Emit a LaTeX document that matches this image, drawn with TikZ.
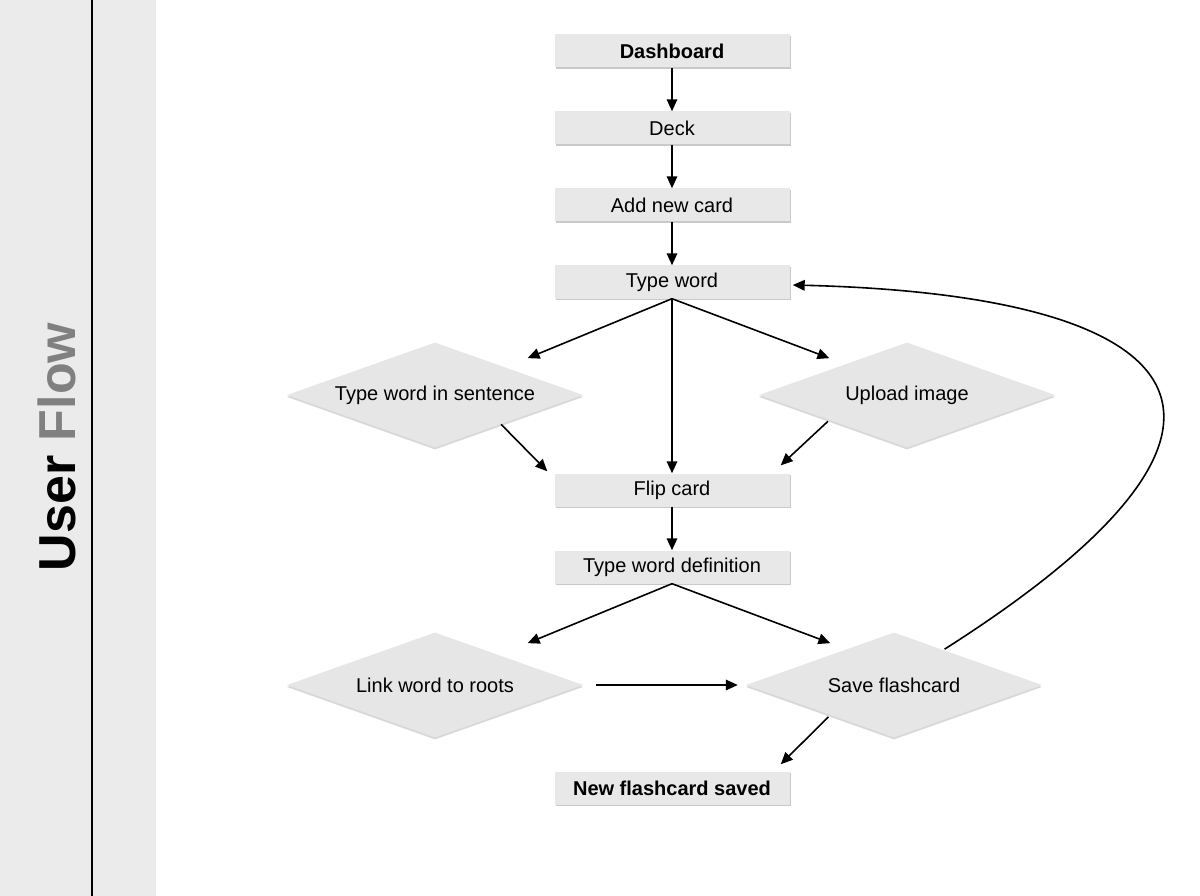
\documentclass[tikz,border=0pt]{standalone}
\usepackage{fontspec}
\setmainfont{Liberation Sans}
\usetikzlibrary{shapes.geometric,arrows.meta,shadows}
\definecolor{strip}{HTML}{EBEBEB}
\definecolor{boxfill}{HTML}{E8E8E8}
\definecolor{diafill}{HTML}{E6E6E6}
\definecolor{flowgray}{HTML}{808080}
\tikzset{
  stepbox/.style={rectangle, fill=boxfill, minimum width=235pt, minimum height=33pt, inner sep=0pt,
    font=\fontsize{20}{24}\selectfont,
    drop shadow={shadow xshift=1pt, shadow yshift=-1.5pt, opacity=0.35, fill=black!60}},
  decision/.style={diamond, aspect=2.8, fill=diafill, minimum width=296pt, minimum height=105pt, inner sep=0pt,
    font=\fontsize{20}{24}\selectfont,
    drop shadow={shadow xshift=0pt, shadow yshift=-2pt, opacity=0.25, fill=black!60}},
  conn/.style={line width=1.6pt, -{Triangle[length=12pt,width=10.5pt]}},
}
\begin{document}
\begin{tikzpicture}[x=1pt,y=-1pt]
\useasboundingbox (0,0) rectangle (1200,896);
\fill[white] (0,0) rectangle (1200,896);
\fill[strip] (0,0) rectangle (156,896);
\draw[line width=1.5pt] (92,0) -- (92,896);
\node[rotate=90, anchor=base, inner sep=0pt, font=\fontsize{52}{60}\selectfont\bfseries] (title) at (75,447) {User \textcolor{flowgray}{Flow}};

\node[stepbox, font=\fontsize{20}{24}\selectfont\bfseries] (dash) at (672,51) {Dashboard};
\node[stepbox] (deck) at (672,128) {Deck};
\node[stepbox] (add) at (672,205) {Add new card};
\node[stepbox] (tw) at (672,282) {Type word};
\node[decision] (tws) at (435,395) {Type word in sentence};
\node[decision] (upl) at (907,395) {Upload image};
\node[stepbox] (flip) at (672,490) {Flip card};
\node[stepbox] (twd) at (672,567) {Type word definition};
\node[decision] (lwr) at (435,685) {Link word to roots};
\node[decision] (save) at (894,685) {Save flashcard};
\node[stepbox, font=\fontsize{20}{24}\selectfont\bfseries] (nfs) at (672,788) {New flashcard saved};

\draw[conn] (dash) -- (deck);
\draw[conn] (deck) -- (add);
\draw[conn] (add) -- (tw);
\draw[conn] (tw.south) -- ([xshift=18.5pt,yshift=10.5pt]tws.north east);
\draw[conn] (tw.south) -- (flip.north);
\draw[conn] (tw.south) -- ([xshift=-3.5pt,yshift=10.5pt]upl.north west);
\draw[conn] ([xshift=-8pt,yshift=-3pt]tws.south east) -- ([xshift=-7pt,yshift=2pt]flip.north west);
\draw[conn] ([xshift=-5pt]upl.south west) -- ([xshift=-9pt,yshift=8pt]flip.north east);
\draw[conn] (flip) -- (twd);
\draw[conn] (twd.south) -- ([xshift=18.5pt,yshift=15.5pt]lwr.north east);
\draw[conn] (twd.south) -- ([xshift=10.5pt,yshift=15.5pt]save.north west);
\draw[conn] ([xshift=13pt]lwr.east) -- ([xshift=-8pt]save.west);
\draw[conn] ([xshift=8.5pt,yshift=-5.5pt]save.south west) -- ([xshift=-9pt,yshift=7pt]nfs.north east);
\draw[conn] ([xshift=-23.5pt,yshift=9.5pt]save.north east) .. controls (1305,420) and (1195,295) .. ([xshift=3pt,yshift=-3pt]tw.east);
\end{tikzpicture}
\end{document}
